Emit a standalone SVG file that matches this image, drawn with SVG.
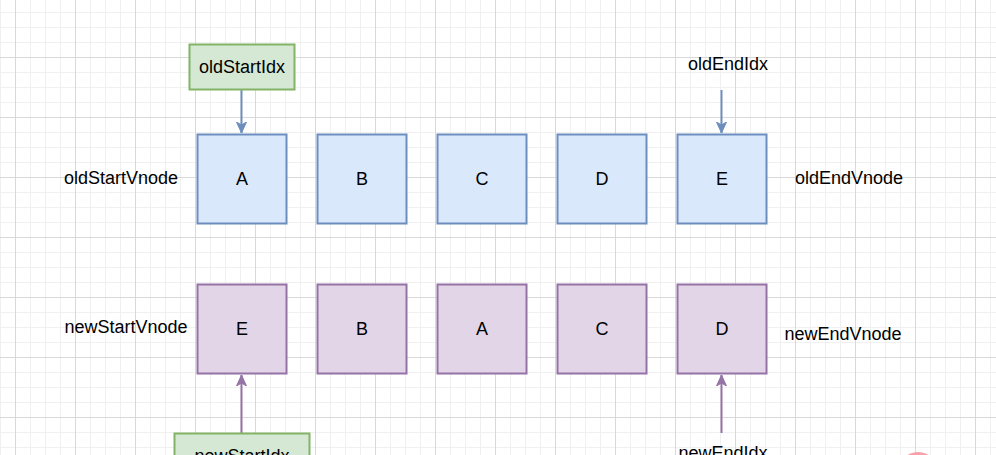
<svg xmlns="http://www.w3.org/2000/svg" width="996" height="455" viewBox="0 0 996 455">
<defs>
<pattern id="grid" patternUnits="userSpaceOnUse" x="15" y="-3" width="60" height="60">
<rect width="60" height="60" fill="#ffffff"/>
<path d="M15.5 0V60M30.5 0V60M45.5 0V60M0 15.5H60M0 30.5H60M0 45.5H60" stroke="#f0f0f0" stroke-width="1"/>
<path d="M0.5 0V60M0 0.5H60" stroke="#d9d9d9" stroke-width="1"/>
</pattern>
<marker id="ab" markerUnits="userSpaceOnUse" markerWidth="12" markerHeight="12" refX="11" refY="6" orient="auto">
<path d="M0 1L11 6L0 11L3 6Z" fill="#6c8ebf" stroke="#6c8ebf"/>
</marker>
<marker id="ap" markerUnits="userSpaceOnUse" markerWidth="12" markerHeight="12" refX="11" refY="6" orient="auto">
<path d="M0 1L11 6L0 11L3 6Z" fill="#9673a6" stroke="#9673a6"/>
</marker>
</defs>
<style>
text{font-family:"Liberation Sans",Arial,sans-serif;font-size:18px;fill:#000;text-anchor:middle;dominant-baseline:central}
.old{fill:#dae8fc;stroke:#6c8ebf;stroke-width:2}
.new{fill:#e1d5e7;stroke:#9673a6;stroke-width:2}
.idx{fill:#d5e8d4;stroke:#82b366;stroke-width:2}
.eb{stroke:#6c8ebf;stroke-width:2;fill:none;marker-end:url(#ab)}
.ep{stroke:#9673a6;stroke-width:2;fill:none;marker-end:url(#ap)}
</style>
<rect width="996" height="455" fill="url(#grid)"/>
<g id="connectors">
<path class="eb" d="M241.5 90V133"/>
<path class="eb" d="M721.5 90V133"/>
<path class="ep" d="M241.5 433V375"/>
<path class="ep" d="M721.5 433V375"/>
</g>
<g id="oldStartIdx"><rect class="idx" x="189.5" y="44.5" width="105" height="45"/><text x="242" y="67">oldStartIdx</text></g>
<g id="oldEndIdx"><text x="728" y="64">oldEndIdx</text></g>
<g id="oldStartVnode"><text x="121" y="178">oldStartVnode</text></g>
<g id="oldEndVnode"><text x="849" y="178">oldEndVnode</text></g>
<g id="newStartVnode"><text x="126" y="327">newStartVnode</text></g>
<g id="newEndVnode"><text x="843" y="334">newEndVnode</text></g>
<g id="oldA"><rect class="old" x="197.5" y="134.5" width="89" height="89"/><text x="242" y="179">A</text></g>
<g id="oldB"><rect class="old" x="317.5" y="134.5" width="89" height="89"/><text x="362" y="179">B</text></g>
<g id="oldC"><rect class="old" x="437.5" y="134.5" width="89" height="89"/><text x="482" y="179">C</text></g>
<g id="oldD"><rect class="old" x="557.5" y="134.5" width="89" height="89"/><text x="602" y="179">D</text></g>
<g id="oldE"><rect class="old" x="677.5" y="134.5" width="89" height="89"/><text x="722" y="179">E</text></g>
<g id="newE"><rect class="new" x="197.5" y="284.5" width="89" height="89"/><text x="242" y="329">E</text></g>
<g id="newB"><rect class="new" x="317.5" y="284.5" width="89" height="89"/><text x="362" y="329">B</text></g>
<g id="newA"><rect class="new" x="437.5" y="284.5" width="89" height="89"/><text x="482" y="329">A</text></g>
<g id="newC"><rect class="new" x="557.5" y="284.5" width="89" height="89"/><text x="602" y="329">C</text></g>
<g id="newD"><rect class="new" x="677.5" y="284.5" width="89" height="89"/><text x="722" y="329">D</text></g>
<g id="newStartIdx"><rect class="idx" x="174.5" y="433.5" width="135" height="45"/><text x="242" y="456">newStartIdx</text></g>
<g id="newEndIdx"><text x="723" y="453">newEndIdx</text></g>
<ellipse cx="918" cy="472" rx="20" ry="20" fill="#f7a1a8"/>
</svg>
